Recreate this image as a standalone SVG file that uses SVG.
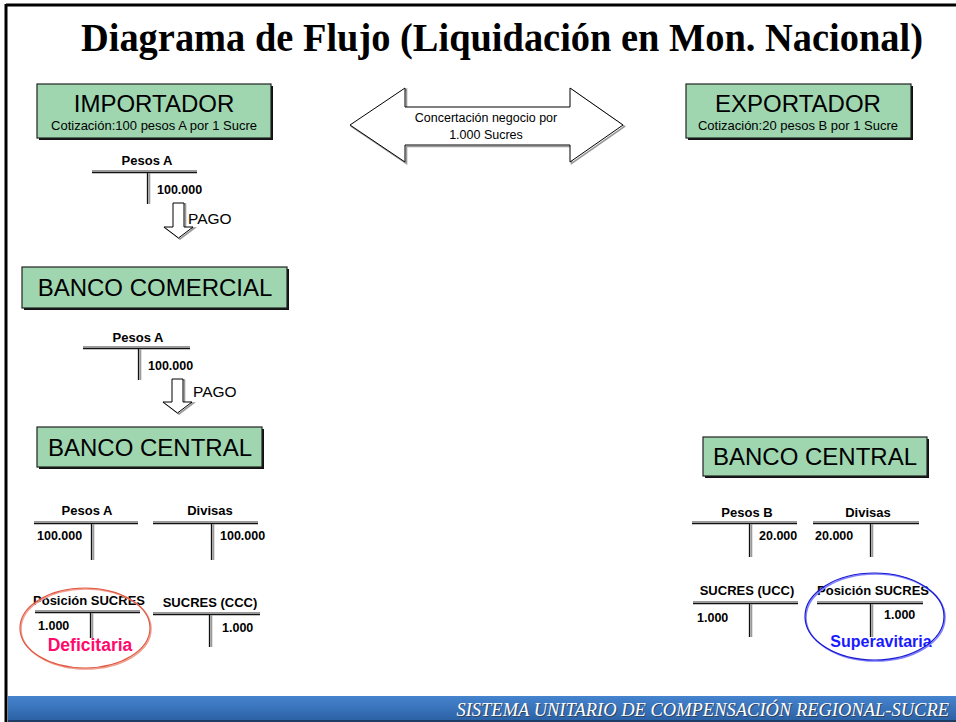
<svg xmlns="http://www.w3.org/2000/svg" width="956" height="722" viewBox="0 0 956 722">
<defs>
<linearGradient id="foot" x1="0" y1="0" x2="0" y2="1">
<stop offset="0" stop-color="#4684cf"/>
<stop offset="1" stop-color="#2c62a6"/>
</linearGradient>
<style>
.box{fill:#9fd6b0;stroke:#222;stroke-width:1.2}
.shadow{fill:#111}
.big{font-family:"Liberation Sans",Arial,sans-serif;font-size:24px;fill:#000;text-anchor:middle}
.sub{font-family:"Liberation Sans",Arial,sans-serif;font-size:13px;fill:#000;text-anchor:middle}
.lbl{font-family:"Liberation Sans",Arial,sans-serif;font-size:13px;font-weight:bold;fill:#000;text-anchor:middle}
.num{font-family:"Liberation Sans",Arial,sans-serif;font-size:12.5px;font-weight:bold;fill:#000}
.tg{stroke:#9a9a9a;stroke-width:2;fill:none}
.tb{stroke:#111;stroke-width:1.3;fill:none}
.arr{fill:#fff;stroke:#000;stroke-width:1}
.arrs{fill:none;stroke:#999;stroke-width:1.6}
.pago{font-family:"Liberation Sans",Arial,sans-serif;font-size:15.5px;fill:#000}
</style>
</defs>
<rect width="956" height="722" fill="#fff"/>
<!-- frame -->
<line x1="6" y1="5" x2="956" y2="5" stroke="#000" stroke-width="3"/>
<line x1="6" y1="4" x2="6" y2="722" stroke="#000" stroke-width="3"/>
<!-- footer -->
<rect x="8" y="696" width="948" height="24" fill="url(#foot)"/>
<rect x="8" y="720" width="948" height="2" fill="#1d3d66"/>
<text x="949" y="716" text-anchor="end" font-family="'Liberation Serif','Times New Roman',serif" font-style="italic" font-size="18.5" fill="#333" opacity="0.7" transform="translate(1,1)">SISTEMA UNITARIO DE COMPENSACIÓN REGIONAL-SUCRE</text>
<text x="949" y="716" text-anchor="end" font-family="'Liberation Serif','Times New Roman',serif" font-style="italic" font-size="18.5" fill="#fff">SISTEMA UNITARIO DE COMPENSACIÓN REGIONAL-SUCRE</text>
<!-- title -->
<text x="81" y="51" font-family="'Liberation Serif','Times New Roman',serif" font-weight="bold" font-size="40" textLength="842" lengthAdjust="spacingAndGlyphs" fill="#000">Diagrama de Flujo (Liquidación en Mon. Nacional)</text>

<g id="importador">
<rect class="shadow" x="39" y="86" width="234" height="54"/>
<rect class="box" x="37" y="84" width="234" height="54"/>
<text class="big" x="154" y="112">IMPORTADOR</text>
<text class="sub" x="154" y="130">Cotización:100 pesos A por 1 Sucre</text>
</g>

<g id="exportador">
<rect class="shadow" x="688" y="86" width="225" height="54"/>
<rect class="box" x="686" y="84" width="225" height="54"/>
<text class="big" x="798" y="112">EXPORTADOR</text>
<text class="sub" x="798" y="130">Cotización:20 pesos B por 1 Sucre</text>
</g>

<g id="negocio">
<polygon class="arrs" transform="translate(1.5,1.5)" points="350,125 405,88 405,107 570,107 570,88 623,125 570,162 570,145 405,145 405,162"/>
<polygon class="arr" points="350,125 405,88 405,107 570,107 570,88 623,125 570,162 570,145 405,145 405,162"/>
<text x="486" y="122" text-anchor="middle" font-family="'Liberation Sans',Arial,sans-serif" font-size="12.5">Concertación negocio por</text>
<text x="486" y="139" text-anchor="middle" font-family="'Liberation Sans',Arial,sans-serif" font-size="12.5">1.000 Sucres</text>
</g>

<g id="t-importador-pesosA">
<text class="lbl" x="147" y="165">Pesos A</text>
<line class="tg" x1="92" y1="171" x2="197" y2="171"/>
<line class="tb" x1="92" y1="172.7" x2="197" y2="172.7"/>
<line class="tb" x1="147.5" y1="172" x2="147.5" y2="204"/>
<line class="tg" x1="149.3" y1="173" x2="149.3" y2="204"/>
<text class="num" x="157" y="194">100.000</text>
</g>

<g id="banco-comercial">
<rect class="shadow" x="24" y="269" width="265" height="41"/>
<rect class="box" x="22" y="267" width="265" height="41"/>
<text class="big" x="155" y="296">BANCO COMERCIAL</text>
</g>

<g id="t-comercial-pesosA">
<text class="lbl" x="138" y="342">Pesos A</text>
<line class="tg" x1="83" y1="347" x2="190" y2="347"/>
<line class="tb" x1="83" y1="348.7" x2="190" y2="348.7"/>
<line class="tb" x1="138.5" y1="348" x2="138.5" y2="380"/>
<line class="tg" x1="140.3" y1="349" x2="140.3" y2="380"/>
<text class="num" x="148" y="370">100.000</text>
</g>

<g id="banco-central-a">
<rect class="shadow" x="39" y="429" width="225" height="40"/>
<rect class="box" x="37" y="427" width="225" height="40"/>
<text class="big" x="150" y="456">BANCO CENTRAL</text>
</g>

<g id="t-bca-pesosA">
<text class="lbl" x="87" y="515">Pesos A</text>
<line class="tg" x1="34" y1="522" x2="138" y2="522"/>
<line class="tb" x1="34" y1="523.7" x2="138" y2="523.7"/>
<line class="tb" x1="91.5" y1="523" x2="91.5" y2="560"/>
<line class="tg" x1="93.3" y1="524" x2="93.3" y2="560"/>
<text class="num" x="37" y="540">100.000</text>
</g>

<g id="t-bca-divisas">
<text class="lbl" x="210" y="515">Divisas</text>
<line class="tg" x1="153" y1="522" x2="258" y2="522"/>
<line class="tb" x1="153" y1="523.7" x2="258" y2="523.7"/>
<line class="tb" x1="211.5" y1="523" x2="211.5" y2="560"/>
<line class="tg" x1="213.3" y1="524" x2="213.3" y2="560"/>
<text class="num" x="220" y="540">100.000</text>
</g>

<g id="t-bca-posicion">
<text class="lbl" x="89" y="605">Posición SUCRES</text>
<line class="tg" x1="35" y1="611" x2="140" y2="611"/>
<line class="tb" x1="35" y1="612.7" x2="140" y2="612.7"/>
<line class="tb" x1="90.5" y1="612" x2="90.5" y2="638"/>
<line class="tg" x1="92.3" y1="613" x2="92.3" y2="638"/>
<text class="num" x="38" y="630">1.000</text>
<text x="90" y="651" text-anchor="middle" font-family="'Liberation Sans',Arial,sans-serif" font-weight="bold" font-size="17.5" fill="#ff0a6c">Deficitaria</text>
<ellipse cx="86" cy="629" rx="65" ry="40" fill="none" stroke="#f0a090" stroke-width="1.5"/>
<ellipse cx="85" cy="628" rx="65" ry="40" fill="none" stroke="#e05a45" stroke-width="1.2"/>
</g>

<g id="t-bca-ccc">
<text class="lbl" x="210" y="607">SUCRES (CCC)</text>
<line class="tg" x1="153" y1="613" x2="260" y2="613"/>
<line class="tb" x1="153" y1="614.7" x2="260" y2="614.7"/>
<line class="tb" x1="209.5" y1="614" x2="209.5" y2="647"/>
<line class="tg" x1="211.3" y1="615" x2="211.3" y2="647"/>
<text class="num" x="222" y="632">1.000</text>
</g>

<g id="banco-central-b">
<rect class="shadow" x="705" y="439" width="224" height="39"/>
<rect class="box" x="703" y="437" width="224" height="39"/>
<text class="big" x="815" y="465">BANCO CENTRAL</text>
</g>

<g id="t-bcb-pesosB">
<text class="lbl" x="747" y="517">Pesos B</text>
<line class="tg" x1="692" y1="522" x2="797" y2="522"/>
<line class="tb" x1="692" y1="523.7" x2="797" y2="523.7"/>
<line class="tb" x1="749.5" y1="523" x2="749.5" y2="557"/>
<line class="tg" x1="751.3" y1="524" x2="751.3" y2="557"/>
<text class="num" x="759" y="540">20.000</text>
</g>

<g id="t-bcb-divisas">
<text class="lbl" x="868" y="517">Divisas</text>
<line class="tg" x1="813" y1="522" x2="919" y2="522"/>
<line class="tb" x1="813" y1="523.7" x2="919" y2="523.7"/>
<line class="tb" x1="870.5" y1="523" x2="870.5" y2="557"/>
<line class="tg" x1="872.3" y1="524" x2="872.3" y2="557"/>
<text class="num" x="815" y="540">20.000</text>
</g>

<g id="t-bcb-ucc">
<text class="lbl" x="747" y="595">SUCRES (UCC)</text>
<line class="tg" x1="693" y1="602" x2="798" y2="602"/>
<line class="tb" x1="693" y1="603.7" x2="798" y2="603.7"/>
<line class="tb" x1="749.5" y1="603" x2="749.5" y2="637"/>
<line class="tg" x1="751.3" y1="604" x2="751.3" y2="637"/>
<text class="num" x="697" y="622">1.000</text>
</g>

<g id="t-bcb-posicion">
<text class="lbl" x="873" y="595">Posición SUCRES</text>
<line class="tg" x1="817" y1="602" x2="923" y2="602"/>
<line class="tb" x1="817" y1="603.7" x2="923" y2="603.7"/>
<line class="tb" x1="870.5" y1="603" x2="870.5" y2="637"/>
<line class="tg" x1="872.3" y1="604" x2="872.3" y2="637"/>
<text class="num" x="884" y="619">1.000</text>
<text x="881" y="647" text-anchor="middle" font-family="'Liberation Sans',Arial,sans-serif" font-weight="bold" font-size="16" fill="#1a1aff">Superavitaria</text>
<ellipse cx="875.5" cy="617.5" rx="69.5" ry="43.5" fill="none" stroke="#8080ff" stroke-width="1.5"/>
<ellipse cx="874.5" cy="616.5" rx="69.5" ry="43.5" fill="none" stroke="#1a1ad0" stroke-width="1.2"/>
</g>

<g id="connectors">
<g id="pago-1">
<polygon class="arrs" transform="translate(1.5,1)" points="173,203 184,203 184,227 193,227 178.5,238 164,227 173,227"/>
<polygon class="arr" points="173,203 184,203 184,227 193,227 178.5,238 164,227 173,227"/>
<text class="pago" x="188" y="224">PAGO</text>
</g>
<g id="pago-2">
<polygon class="arrs" transform="translate(1.5,1)" points="172,379 183,379 183,402 192,402 177.5,413 163,402 172,402"/>
<polygon class="arr" points="172,379 183,379 183,402 192,402 177.5,413 163,402 172,402"/>
<text class="pago" x="193" y="397">PAGO</text>
</g>
</g>
</svg>
